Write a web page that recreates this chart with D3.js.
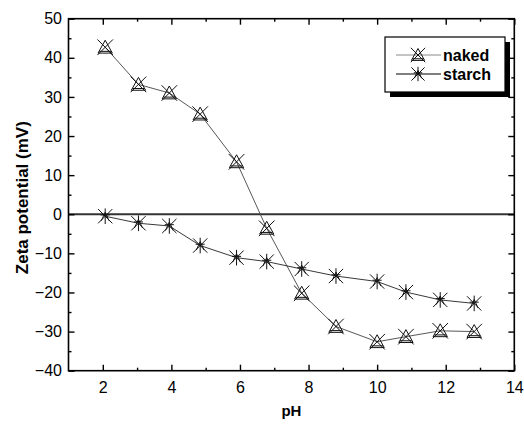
<!DOCTYPE html>
<html>
<head>
<meta charset="utf-8">
<script src="https://cdn.jsdelivr.net/npm/d3@7"></script>
<style>
  body { margin: 0; background: #fff; }
  text { font-family: "Liberation Sans", Arial, sans-serif; }
</style>
</head>
<body>
<svg id="chart"></svg>
<script>
// data
const pH = [2.07, 3.04, 3.94, 4.84, 5.9, 6.78, 7.8, 8.8, 10.0, 10.84, 11.84, 12.83];
const naked = [42.7, 33.2, 31.0, 25.6, 13.4, -3.6, -20.2, -28.7, -32.6, -31.3, -29.8, -30.0];
const starch = [-0.5, -2.3, -3.0, -8.0, -11.1, -12.1, -14.0, -15.8, -17.2, -19.9, -21.9, -22.8];
const xTicks = [2, 4, 6, 8, 10, 12, 14];
const yTicks = [50, 40, 30, 20, 10, 0, -10, -20, -30, -40];

const width = 524, height = 426;
const margin = { left: 68.5, top: 18.7, right: 524 - 514.3, bottom: 426 - 370.7 };

const svg = d3.select("#chart")
    .attr("width", width)
    .attr("height", height);

const x = d3.scaleLinear().domain([1, 14]).range([margin.left, width - margin.right]);
const y = d3.scaleLinear().domain([-40, 50]).range([height - margin.bottom, margin.top]);

// zero line
svg.append("line")
    .attr("x1", x(1)).attr("x2", x(14))
    .attr("y1", y(0)).attr("y2", y(0))
    .attr("stroke", "#333").attr("stroke-width", 2.2);

// axes with inward ticks (major + minor)
function drawAxis(axis, tx, ty) {
    const g = svg.append("g").attr("transform", `translate(${tx},${ty})`).call(axis);
    g.select(".domain").remove();
    g.selectAll("line").attr("stroke", "#000").attr("stroke-width", 1.4);
    g.selectAll("text").attr("font-size", 16).attr("fill", "#000");
    return g;
}
const xMinor = d3.range(3, 14, 2);
const yMinor = d3.range(-35, 50, 10);

drawAxis(d3.axisBottom(x).tickValues(xTicks).tickSize(-6).tickPadding(10.5).tickFormat(d3.format("d")), 0, y(-40));
drawAxis(d3.axisBottom(x).tickValues(xMinor).tickSize(-3).tickFormat(""), 0, y(-40));
drawAxis(d3.axisTop(x).tickValues(xTicks).tickSize(-6).tickFormat(""), 0, y(50));
drawAxis(d3.axisTop(x).tickValues(xMinor).tickSize(-3).tickFormat(""), 0, y(50));
drawAxis(d3.axisLeft(y).tickValues(yTicks).tickSize(-6).tickPadding(6.5).tickFormat(d3.format("d")), x(1), 0);
drawAxis(d3.axisLeft(y).tickValues(yMinor).tickSize(-3).tickFormat(""), x(1), 0);
drawAxis(d3.axisRight(y).tickValues(yTicks).tickSize(-6).tickFormat(""), x(14), 0);
drawAxis(d3.axisRight(y).tickValues(yMinor).tickSize(-3).tickFormat(""), x(14), 0);

// frame
svg.append("rect")
    .attr("x", x(1)).attr("y", y(50))
    .attr("width", x(14) - x(1)).attr("height", y(-40) - y(50))
    .attr("fill", "none").attr("stroke", "#000").attr("stroke-width", 1.6);

// marker shapes
function triCross(s) {
    const h = s * 0.9;
    return `M${-s * 0.55},${h * 0.5}L0,${-h * 0.6}L${s * 0.55},${h * 0.5}Z` +
        `M${-s * 0.6},${-s * 0.6}L${s * 0.6},${s * 0.6}M${s * 0.6},${-s * 0.6}L${-s * 0.6},${s * 0.6}` +
        `M${-s * 0.45},${h * 0.35}L${s * 0.45},${h * 0.35}`;
}
function starCross(s) {
    return `M${-s * 0.55},${-s * 0.55}L${s * 0.55},${s * 0.55}M${s * 0.55},${-s * 0.55}L${-s * 0.55},${s * 0.55}` +
        `M0,${-s * 0.6}L0,${s * 0.6}M${-s * 0.35},${-s * 0.1}L${s * 0.35},${-s * 0.1}` +
        `M${-s * 0.3},${s * 0.35}L0,${-s * 0.3}L${s * 0.3},${s * 0.35}`;
}

const series = [
    { name: "naked", values: naked, color: "#444", legendColor: "#888", shape: triCross },
    { name: "starch", values: starch, color: "#222", legendColor: "#000", shape: starCross }
];

const line = d3.line().x(d => x(d[0])).y(d => y(d[1]));

series.forEach(s => {
    const pts = pH.map((p, i) => [p, s.values[i]]);
    svg.append("path")
        .datum(pts)
        .attr("d", line)
        .attr("fill", "none")
        .attr("stroke", s.color)
        .attr("stroke-width", 0.9);
    svg.selectAll(".m-" + s.name)
        .data(pts)
        .enter()
        .append("path")
        .attr("class", "m-" + s.name)
        .attr("transform", d => `translate(${x(d[0])},${y(d[1])})`)
        .attr("d", s.shape(13))
        .attr("fill", "none")
        .attr("stroke", "#111")
        .attr("stroke-width", 1);
});

// axis titles
svg.append("text")
    .attr("x", (x(1) + x(14)) / 2)
    .attr("y", 416)
    .attr("text-anchor", "middle")
    .attr("font-size", 15)
    .attr("font-weight", "bold")
    .text("pH");
svg.append("text")
    .attr("transform", `translate(28,${(y(50) + y(-40)) / 2 + 3}) rotate(-90)`)
    .attr("text-anchor", "middle")
    .attr("font-size", 17)
    .attr("font-weight", "bold")
    .text("Zeta potential (mV)");

// legend with drop shadow
const lg = svg.append("g").attr("transform", "translate(385,37)");
lg.append("rect").attr("x", 5).attr("y", 5).attr("width", 120).attr("height", 55).attr("fill", "#000");
lg.append("rect").attr("width", 120).attr("height", 55).attr("fill", "#fff").attr("stroke", "#000").attr("stroke-width", 1.2);
series.forEach((s, i) => {
    const cy = 18 + i * 19;
    lg.append("line")
        .attr("x1", 11).attr("x2", 56)
        .attr("y1", cy).attr("y2", cy)
        .attr("stroke", s.legendColor).attr("stroke-width", 1);
    lg.append("path")
        .attr("transform", `translate(33,${cy})`)
        .attr("d", s.shape(12))
        .attr("fill", "none").attr("stroke", "#111").attr("stroke-width", 1);
    lg.append("text")
        .attr("x", 58).attr("y", cy + 5.5)
        .attr("font-size", 16)
        .attr("font-weight", "bold")
        .text(s.name);
});
</script>
</body>
</html>
